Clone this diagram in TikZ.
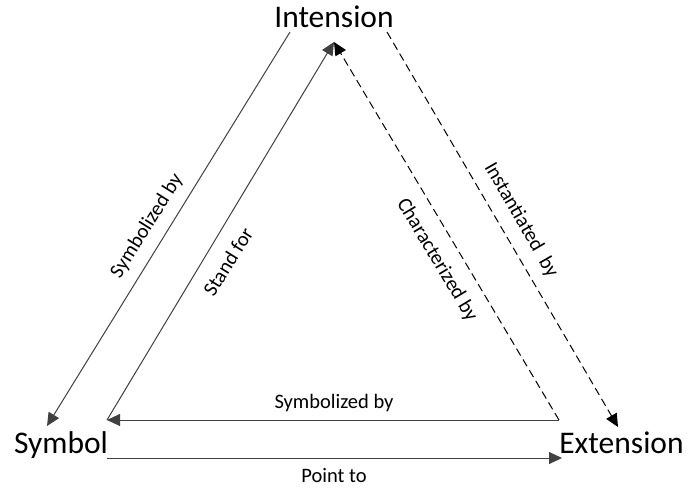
\documentclass[tikz,border=0pt]{standalone}
\usepackage{fontspec}
\setmainfont{Carlito}
\usetikzlibrary{arrows.meta}
\begin{document}
\begin{tikzpicture}[x=1pt,y=-1pt,
  big/.style={inner sep=0pt,anchor=base,font=\fontsize{31.5}{36}\selectfont},
  lbl/.style={inner sep=0pt,font=\fontsize{20.5}{24}\selectfont},
  solidarrow/.style={draw=black!75,line width=1pt,-{Triangle[length=13pt,width=12pt]}},
  dasharrow/.style={draw=black,line width=1pt,dash pattern=on 8pt off 4.5pt,-{Triangle[length=13pt,width=12pt]}}]
\useasboundingbox (0,0) rectangle (688,488);
% main nodes
\node[big] (int) at (334,27) {Intension};
\node[big] (sym) at (61,453) {Symbol};
\node[big] (ext) at (621.5,453) {Extension};
% endpoints
\coordinate (a1) at (290,32);
\coordinate (a2) at (47,426);
\coordinate (b1) at (107,420);
\coordinate (b2) at (334,42);
\coordinate (c1) at (559,420);
\coordinate (d1) at (387,32);
\coordinate (d2) at (618,427);
\coordinate (e1) at (107,458);
\coordinate (e2) at (562,458);
% connectors
\draw[solidarrow] (a1) -- (a2);
\draw[solidarrow] (b1) -- (b2);
\draw[dasharrow] (c1) -- (b2);
\draw[dasharrow] (d1) -- (d2);
\draw[solidarrow] (c1) -- (b1);
\draw[solidarrow] (e1) -- (e2);
% labels
\node[lbl,rotate=58] (l1) at (147,226) {Symbolized by};
\node[lbl,rotate=58] (l2) at (228,262) {Stand for};
\node[lbl,rotate=-59] (l3) at (437,260) {Characterized by};
\node[lbl,rotate=-60] (l4) at (521,220) {Instantiated~ by};
\node[lbl,anchor=base] (l5) at (334,408) {Symbolized by};
\node[lbl,anchor=base] (l6) at (334,482) {Point to};
\end{tikzpicture}
\end{document}
